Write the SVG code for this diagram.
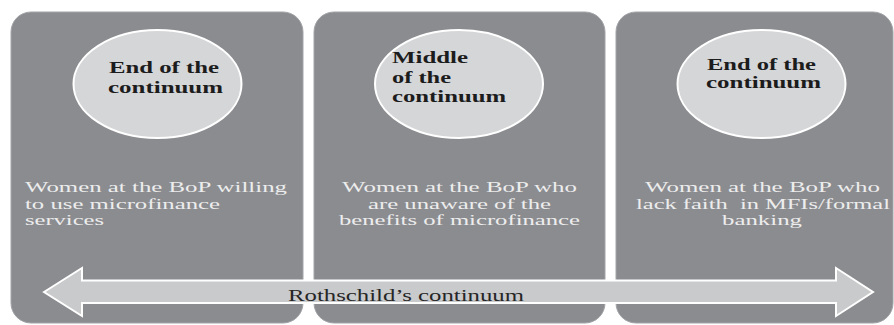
<svg xmlns="http://www.w3.org/2000/svg" width="894" height="325" viewBox="0 0 894 325">
  <style>
    .panel { fill: #8b8c90; stroke: #a3a4a7; stroke-width: 1; }
    .badge { fill: #d5d6d8; stroke: #ffffff; stroke-width: 2; }
    .head { font-family: "Liberation Serif", "Times New Roman", serif; font-size: 16px; font-weight: bold; fill: #1c1c1c; }
    .body { font-family: "Liberation Serif", "Times New Roman", serif; font-size: 15.5px; fill: #ededed; white-space: pre; }
    .axis { fill: #c9cacc; stroke: #ffffff; stroke-width: 2; stroke-linejoin: miter; }
    .axis-label { font-family: "Liberation Serif", "Times New Roman", serif; font-size: 16px; fill: #262626; }
  </style>

  <rect width="894" height="325" fill="#ffffff"/>

  <!-- left end: willing users -->
  <g id="end-willing">
    <rect class="panel" x="11" y="12" width="292" height="311" rx="20" ry="20"/>
    <ellipse class="badge" cx="157.5" cy="84" rx="84" ry="54"/>
    <text class="head" x="109" y="73" textLength="110" lengthAdjust="spacingAndGlyphs">End of the</text>
    <text class="head" x="108" y="93" textLength="115" lengthAdjust="spacingAndGlyphs">continuum</text>
    <text class="body" x="25" y="192" textLength="262" lengthAdjust="spacingAndGlyphs">Women at the BoP willing</text>
    <text class="body" x="25" y="208.5" textLength="195" lengthAdjust="spacingAndGlyphs">to use microfinance</text>
    <text class="body" x="25" y="225" textLength="79" lengthAdjust="spacingAndGlyphs">services</text>
  </g>

  <!-- middle: unaware of benefits -->
  <g id="middle-unaware">
    <rect class="panel" x="314" y="12" width="291" height="311" rx="20" ry="20"/>
    <ellipse class="badge" cx="459" cy="84" rx="84" ry="54"/>
    <text class="head" x="392" y="63" textLength="76" lengthAdjust="spacingAndGlyphs">Middle</text>
    <text class="head" x="392" y="83" textLength="59" lengthAdjust="spacingAndGlyphs">of the</text>
    <text class="head" x="392" y="102" textLength="114" lengthAdjust="spacingAndGlyphs">continuum</text>
    <text class="body" x="342" y="192" textLength="235" lengthAdjust="spacingAndGlyphs">Women at the BoP who</text>
    <text class="body" x="368" y="208.5" textLength="183" lengthAdjust="spacingAndGlyphs">are unaware of the</text>
    <text class="body" x="339" y="225" textLength="241" lengthAdjust="spacingAndGlyphs">benefits of microfinance</text>
  </g>

  <!-- right end: lack of faith in MFIs -->
  <g id="end-distrust">
    <rect class="panel" x="616" y="12" width="277" height="311" rx="20" ry="20"/>
    <ellipse class="badge" cx="761.5" cy="84" rx="84" ry="54"/>
    <text class="head" x="707" y="70" textLength="109" lengthAdjust="spacingAndGlyphs">End of the</text>
    <text class="head" x="706" y="88" textLength="115" lengthAdjust="spacingAndGlyphs">continuum</text>
    <text class="body" x="645" y="192" textLength="235" lengthAdjust="spacingAndGlyphs">Women at the BoP who</text>
    <text class="body" x="636" y="208.5" textLength="254" lengthAdjust="spacingAndGlyphs">lack faith  in MFIs/formal</text>
    <text class="body" x="722" y="225" textLength="80" lengthAdjust="spacingAndGlyphs">banking</text>
  </g>

  <!-- double-headed axis across all three panels -->
  <g id="connectors">
    <polygon class="axis" points="44,292 82,268 82,280.5 836,280.5 836,268 873,292 836,316 836,303 82,303 82,316"/>
    <text class="axis-label" x="288" y="301" textLength="236" lengthAdjust="spacingAndGlyphs">Rothschild’s continuum</text>
  </g>
</svg>
